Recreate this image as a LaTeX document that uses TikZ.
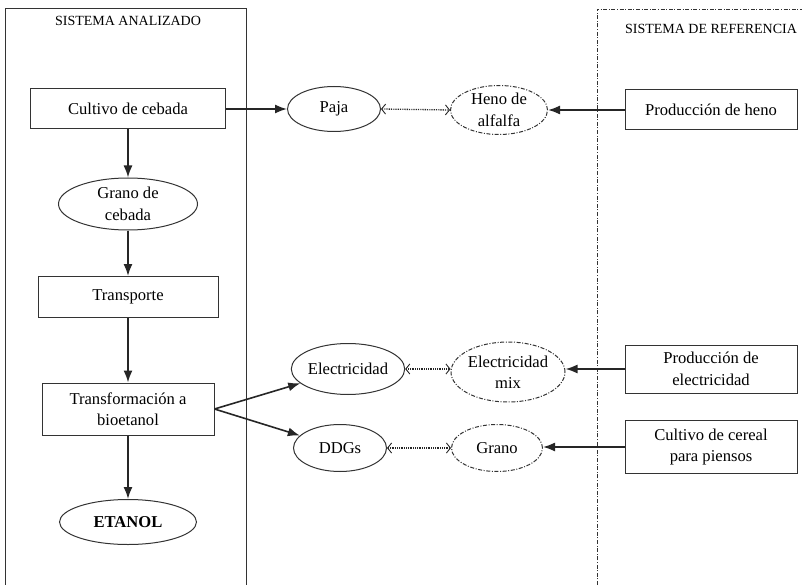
\documentclass[tikz,border=0pt]{standalone}
\usepackage{fontspec}
\setmainfont{Liberation Serif}
\usetikzlibrary{shapes.geometric,arrows.meta}
\begin{document}
\begin{tikzpicture}[x=1pt,y=-1pt,
  every node/.style={font=\fontsize{16.6}{21.5}\selectfont, text=black, align=center, inner sep=0pt},
  procbox/.style={draw=black!80, line width=1pt, rectangle, minimum height=40pt},
  flowell/.style={draw=black!80, line width=1pt, ellipse},
  refell/.style={draw=black!80, line width=1pt, ellipse, dash pattern=on 4pt off 1.6pt on 1pt off 1.6pt},
  flow/.style={draw=black!85, line width=1.6pt, -{Latex[length=12pt,width=9pt]}},
  swap/.style={draw=black!85, line width=1.3pt, dash pattern=on 0.9pt off 0.9pt, {Straight Barb[length=4pt,width=10pt,line width=0.9pt]}-{Straight Barb[length=4pt,width=10pt,line width=0.9pt]}},
  frame/.style={draw=black!80, line width=1pt}
]
\useasboundingbox (0,0) rectangle (802,585);

% system boundaries
\draw[frame] (5,585) -- (5,9) -- (246,9) -- (246,585);
\draw[frame, line width=0.9pt, dash pattern=on 4pt off 1.6pt on 1pt off 1.6pt] (597,585) -- (597,9) -- (802,9);
\node (tA) at (128,21) {\fontsize{14}{16}\selectfont SISTEMA ANALIZADO};
\node (tR) at (711,29) {\fontsize{14}{16}\selectfont SISTEMA DE REFERENCIA};

% analysed chain
\node[procbox, minimum width=195pt] (cult) at (128,109) {Cultivo de cebada};
\node[flowell, minimum width=139pt, minimum height=52pt] (grano) at (128,204) {Grano de\\cebada};
\node[procbox, minimum width=180pt, minimum height=41pt] (transp) at (128,297) {Transporte};
\node[procbox, minimum width=172pt, minimum height=52pt] (transf) at (128,409) {Transformación a\\bioetanol};
\node[flowell, minimum width=137pt, minimum height=45pt] (etanol) at (128,522) {\textbf{ETANOL}};

% co-products
\node[flowell, minimum width=93pt, minimum height=45pt] (paja) at (334,109) {Paja};
\node[flowell, minimum width=111pt, minimum height=51pt] (elec) at (348,369) {Electricidad};
\node[flowell, minimum width=93pt, minimum height=47pt] (ddgs) at (340,448) {DDGs};

% substituted products
\node[refell, minimum width=97pt, minimum height=49pt] (heno) at (499,110) {Heno de\\alfalfa};
\node[refell, minimum width=114pt, minimum height=60pt] (emix) at (508,372) {Electricidad\\mix};
\node[refell, minimum width=91pt, minimum height=47pt] (gr) at (497,448) {Grano};

% reference processes
\node[procbox, minimum width=172pt] (pheno) at (711,110) {Producción de heno};
\node[procbox, minimum width=172pt, minimum height=48pt] (pelec) at (711,369) {Producción de\\electricidad};
\node[procbox, minimum width=172pt, minimum height=53pt] (pcer) at (711,447) {Cultivo de cereal\\para piensos};

% flows
\draw[flow] (cult.east) -- (paja.west);
\draw[flow] (cult.south) -- (grano.north);
\draw[flow] (grano.south) -- (transp.north);
\draw[flow] (transp.south) -- (transf.north);
\draw[flow] (transf.south) -- (etanol.north);
\draw[flow] (transf.east) -- (elec);
\draw[flow] (transf.east) -- (ddgs);

\draw[flow] (pheno.west) -- (heno.east);
\draw[flow] (pelec.west) -- (pelec.west -| emix.east);
\draw[flow] (pcer.west) -- (pcer.west -| gr.east);

% substitutions
\draw[swap] (paja.east) -- (heno.west);
\draw[swap] (elec.east) -- (elec.east -| emix.west);
\draw[swap] (ddgs.east) -- (gr.west);
\end{tikzpicture}
\end{document}
